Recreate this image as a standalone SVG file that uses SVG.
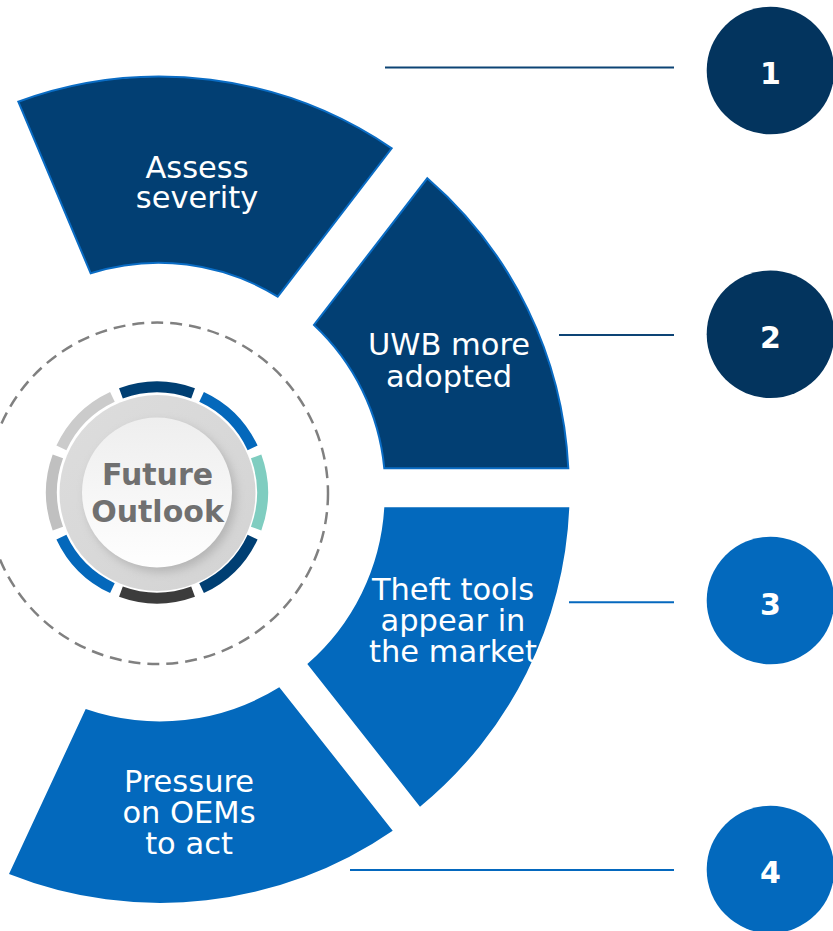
<svg xmlns="http://www.w3.org/2000/svg" width="833" height="931" viewBox="0 0 833 931">
  <style>
    .seg-dark { fill: #023f73; stroke: #0a6cc4; stroke-width: 2; }
    .seg-blue { fill: #0369bd; }
    .seg-label { font-family: "DejaVu Sans", Verdana, sans-serif; font-size: 30.5px; fill: #ffffff; text-anchor: middle; }
    .badge-dark { fill: #03345e; }
    .badge-blue { fill: #0369bd; }
    .badge-num { font-family: "DejaVu Sans", Verdana, sans-serif; font-weight: bold; font-size: 30px; fill: #ffffff; text-anchor: middle; }
    .link-dark { stroke: #0d4475; stroke-width: 2; fill: none; }
    .link-blue { stroke: #0568be; stroke-width: 2; fill: none; }
    .ring { fill: none; stroke-width: 11; }
    .hub-label { font-family: "DejaVu Sans", Verdana, sans-serif; font-weight: bold; font-size: 30px; fill: #707070; text-anchor: middle; }
  </style>
  <defs>
    <linearGradient id="hubFace" x1="0" y1="0" x2="0" y2="1">
      <stop offset="0" stop-color="#eeeeee"/>
      <stop offset="1" stop-color="#fefefe"/>
    </linearGradient>
    <linearGradient id="hubRim" x1="0" y1="0" x2="1" y2="1">
      <stop offset="0" stop-color="#dddddd"/>
      <stop offset="1" stop-color="#d3d3d3"/>
    </linearGradient>
    <filter id="hubShadow" x="-30%" y="-30%" width="160%" height="160%">
      <feGaussianBlur stdDeviation="5"/>
    </filter>
  </defs>

  <!-- central hub -->
  <g id="hub">
    <circle cx="157.3" cy="493.3" r="170.7" fill="none" stroke="#808080" stroke-width="2.5" stroke-dasharray="12 7"/>
    <path class="ring" stroke="#003f73" d="M120.92 393.36 A105.5 105.5 0 0 1 193.08 393.36"/>
    <path class="ring" stroke="#0468bb" d="M201.58 396.88 A105.5 105.5 0 0 1 252.61 447.92"/>
    <path class="ring" stroke="#7fcdc0" d="M256.14 456.42 A105.5 105.5 0 0 1 256.14 528.58"/>
    <path class="ring" stroke="#003f73" d="M252.61 537.08 A105.5 105.5 0 0 1 201.58 588.12"/>
    <path class="ring" stroke="#3c3c3c" d="M193.08 591.64 A105.5 105.5 0 0 1 120.92 591.64"/>
    <path class="ring" stroke="#0468bb" d="M112.42 588.12 A105.5 105.5 0 0 1 61.39 537.08"/>
    <path class="ring" stroke="#c0c0c0" d="M57.86 528.58 A105.5 105.5 0 0 1 57.86 456.42"/>
    <path class="ring" stroke="#cbcbcb" d="M61.39 447.92 A105.5 105.5 0 0 1 112.42 396.88"/>
    <circle cx="157.5" cy="493" r="98" fill="url(#hubRim)"/>
    <circle cx="161" cy="497" r="75" fill="#9a9a9a" opacity="0.55" filter="url(#hubShadow)"/>
    <circle cx="157" cy="492.5" r="75" fill="url(#hubFace)"/>
    <text class="hub-label" x="157.5" y="485">Future</text>
    <text class="hub-label" x="157.5" y="521.7">Outlook</text>
  </g>

  <!-- connectors from segments to numbered badges -->
  <g id="connectors">
    <line class="link-dark" x1="385" y1="67.5" x2="674" y2="67.5"/>
    <line class="link-dark" x1="559" y1="335" x2="674" y2="335"/>
    <line class="link-blue" x1="569" y1="602.3" x2="674" y2="602.3"/>
    <line class="link-blue" x1="350" y1="870" x2="674" y2="870"/>
  </g>

  <!-- ring segments -->
  <g id="segment-1">
    <path class="seg-dark" d="M18.3 101.7 A411.5 411.5 0 0 1 391.7 148.3 L277.7 296.7 A225 225 0 0 0 90.7 273.3 Z"/>
    <text class="seg-label" x="197" y="178.3">Assess</text>
    <text class="seg-label" x="197" y="208.3">severity</text>
  </g>
  <g id="segment-2">
    <path class="seg-dark" d="M427.3 178.3 A410 410 0 0 1 568.3 468.3 L384.3 468.3 A225 225 0 0 0 314 325 Z"/>
    <text class="seg-label" x="449" y="355">UWB more</text>
    <text class="seg-label" x="449" y="387">adopted</text>
  </g>
  <g id="segment-3">
    <path class="seg-blue" d="M384.3 507.3 L569.3 507.3 A410 410 0 0 1 420 806.7 L307.3 664 A225 225 0 0 0 384.3 507.3 Z"/>
    <text class="seg-label" x="453" y="600">Theft tools</text>
    <text class="seg-label" x="453" y="630.5">appear in</text>
    <text class="seg-label" x="453" y="661.7">the market</text>
  </g>
  <g id="segment-4">
    <path class="seg-blue" d="M279.3 687.3 L392.7 830.7 A410 410 0 0 1 9 874 L85.7 709 A227 227 0 0 0 279.3 687.3 Z"/>
    <text class="seg-label" x="189" y="791.7">Pressure</text>
    <text class="seg-label" x="189" y="823.3">on OEMs</text>
    <text class="seg-label" x="189" y="854.3">to act</text>
  </g>

  <!-- numbered badges -->
  <g id="badge-1">
    <circle class="badge-dark" cx="770.5" cy="70.5" r="63.8"/>
    <text class="badge-num" x="770.5" y="84">1</text>
  </g>
  <g id="badge-2">
    <circle class="badge-dark" cx="770.5" cy="334.2" r="63.8"/>
    <text class="badge-num" x="770.5" y="347.7">2</text>
  </g>
  <g id="badge-3">
    <circle class="badge-blue" cx="770.5" cy="600.5" r="63.8"/>
    <text class="badge-num" x="770.5" y="614.5">3</text>
  </g>
  <g id="badge-4">
    <circle class="badge-blue" cx="770.5" cy="869.5" r="63.8"/>
    <text class="badge-num" x="770.5" y="883">4</text>
  </g>
</svg>
